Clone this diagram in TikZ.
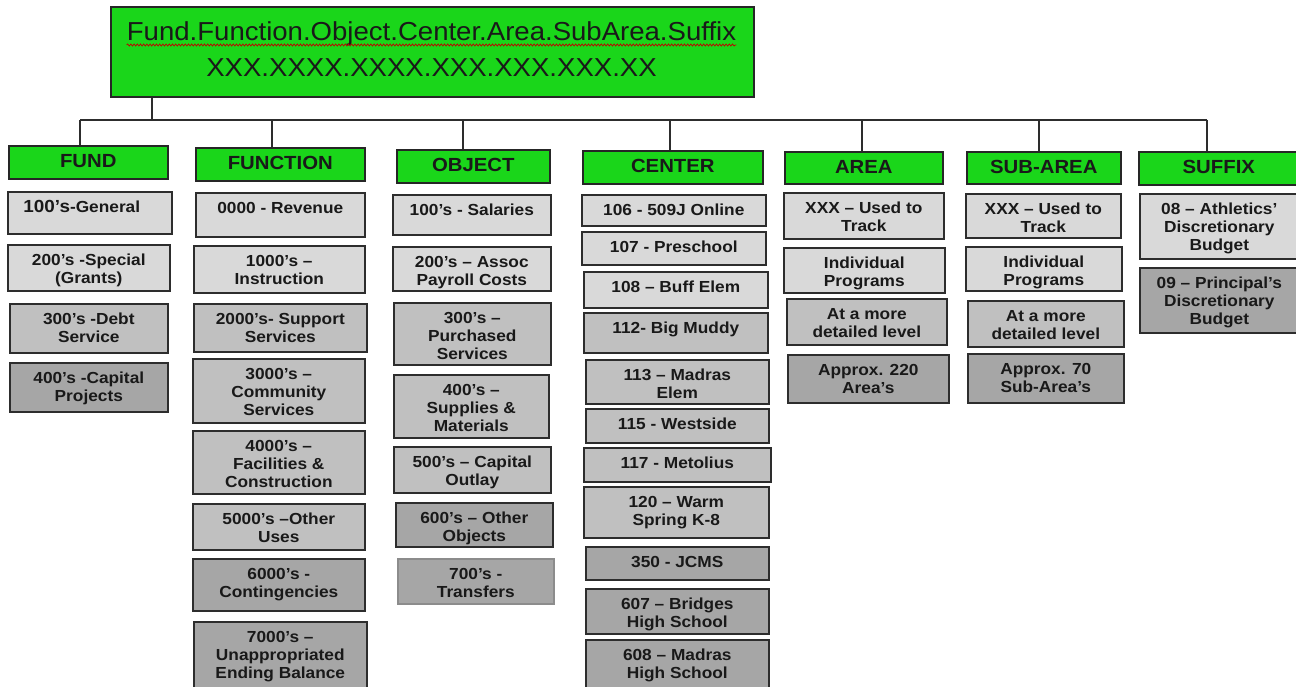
\documentclass[tikz,border=0pt]{standalone}
\usepackage{fontspec}
\setmainfont{Liberation Sans}
\newfontfamily\boxfont[FakeStretch=1.08]{Liberation Sans}
\newfontfamily\hdrfont[FakeStretch=1.07]{Liberation Sans}
\newfontfamily\topfont[FakeStretch=1.06]{Liberation Sans}
\usetikzlibrary{decorations.pathmorphing}
\definecolor{hgreen}{RGB}{26,214,26}
\definecolor{lgray}{RGB}{217,217,217}
\definecolor{mgray}{RGB}{192,192,192}
\definecolor{dgray}{RGB}{166,166,166}
\definecolor{edge}{RGB}{45,45,45}
\tikzset{
  lt/.style={fill=lgray},
  md/.style={fill=mgray},
  dk/.style={fill=dgray},
  dkpale/.style={fill=dgray, draw=black!45},
  cellbox/.style={draw=edge, line width=1.6pt, inner sep=0pt},
  celltext/.style={anchor=north, inner sep=0pt, align=center, text=black!90,
    font={\boxfont\bfseries\fontsize{16}{18}\selectfont}},
  hdrbox/.style={draw=black!85, fill=hgreen, line width=1.6pt, inner sep=0pt,
    font={\hdrfont\bfseries\fontsize{19}{21}\selectfont}, text=black!90},
  topbox/.style={draw=black!85, fill=hgreen, line width=2pt, inner sep=0pt},
  toptext/.style={inner sep=0pt, font={\topfont\fontsize{26}{29}\selectfont}, text=black!90},
  conn/.style={draw=edge, line width=1.6pt},
  squiggle/.style={draw=red!75!black, line width=0.7pt, decorate,
    decoration={snake, amplitude=1pt, segment length=3.2pt}}
}
\newcommand\cell[7]{%
  \pgfmathsetmacro\cellw{#4-#2}%
  \pgfmathsetmacro\cellh{#5-#3}%
  \node[cellbox, #6, minimum width=\cellw pt, minimum height=\cellh pt, anchor=north west] (#1) at (#2,#3) {};
  \node[celltext] (#1-t) at ([yshift=-8.5pt]#1.north) {\rule{0pt}{12.5pt}#7};
}
\newcommand\hdr[6]{%
  \pgfmathsetmacro\cellw{#4-#2}%
  \pgfmathsetmacro\cellh{#5-#3}%
  \node[hdrbox, minimum width=\cellw pt, minimum height=\cellh pt, anchor=north west] (#1) at (#2,#3) {\rule[-2pt]{0pt}{15pt}#6};
}
\begin{document}
\begin{tikzpicture}[x=1pt,y=-1pt]
\useasboundingbox (0,0) rectangle (1296,687);
\fill[white] (0,0) rectangle (1296,687);
\clip (0,0) rectangle (1296,687);

% top box
\node[topbox, minimum width=643pt, minimum height=90pt, anchor=north west] (top) at (110,6) {};
\node[toptext, anchor=base] (t1) at (431.5,41) {Fund.Function.Object.Center.Area.SubArea.Suffix};
\node[toptext, anchor=base] (t2) at (431.5,77) {XXX.XXXX.XXXX.XXX.XXX.XXX.XX};
\draw[squiggle] ([yshift=-4pt]t1.base west) -- ([yshift=-4pt]t1.base east);

% headers
\hdr{hfund}{8}{145}{167}{178}{FUND}
\hdr{hfunc}{195}{147}{364}{180}{FUNCTION}
\hdr{hobj}{396}{149}{549}{182}{OBJECT}
\hdr{hcen}{582}{150}{762}{183}{CENTER}
\hdr{harea}{784}{151}{942}{183}{AREA}
\hdr{hsub}{966}{151}{1120}{183}{SUB-AREA}
\hdr{hsuf}{1138}{151}{1298}{184}{SUFFIX}

% connectors
\coordinate (j0) at (152,120);
\coordinate (d1) at (80,120);
\coordinate (d2) at (272,120);
\coordinate (d3) at (463,120);
\coordinate (d4) at (670,120);
\coordinate (d5) at (862,120);
\coordinate (d6) at (1039,120);
\coordinate (d7) at (1207,120);
\draw[conn] (j0 |- top.south) -- (j0);
\draw[conn] (d1) -- (d7);
\draw[conn] (d1) -- (d1 |- hfund.north);
\draw[conn] (d2) -- (d2 |- hfunc.north);
\draw[conn] (d3) -- (d3 |- hobj.north);
\draw[conn] (d4) -- (d4 |- hcen.north);
\draw[conn] (d5) -- (d5 |- harea.north);
\draw[conn] (d6) -- (d6 |- hsub.north);
\draw[conn] (d7) -- (d7 |- hsuf.north);

% FUND
\node[cellbox, lt, minimum width=164pt, minimum height=42pt, anchor=north west] (f1) at (7,191) {};
\node[celltext] (f1-t) at ([xshift=-8pt,yshift=-8.5pt]f1.north) {\rule{0pt}{12.5pt}{\fontsize{17.5}{18}\selectfont 100’s}-General};
\cell{f2}{7}{244}{169}{290}{lt}{200’s -Special\\(Grants)}
\cell{f3}{9}{303}{167}{352}{md}{300’s -Debt\\Service}
\cell{f4}{9}{362}{167}{411}{dk}{400’s -Capital\\Projects}

% FUNCTION
\cell{u1}{195}{192}{364}{236}{lt}{0000 - Revenue}
\cell{u2}{193}{245}{364}{292}{lt}{1000’s –\\Instruction}
\cell{u3}{193}{303}{366}{351}{md}{2000’s- Support\\Services}
\cell{u4}{192}{358}{364}{422}{md}{3000’s –\\Community\\Services}
\cell{u5}{192}{430}{364}{493}{md}{4000’s –\\Facilities \&\\Construction}
\cell{u6}{192}{503}{364}{549}{md}{5000’s –Other\\Uses}
\cell{u7}{192}{558}{364}{610}{dk}{6000’s -\\Contingencies}
\cell{u8}{193}{621}{366}{687}{dk}{7000’s –\\Unappropriated\\Ending Balance}

% OBJECT
\cell{o1}{392}{194}{550}{234}{lt}{100’s - Salaries}
\cell{o2}{392}{246}{550}{290}{lt}{200’s – Assoc\\Payroll Costs}
\cell{o3}{393}{302}{550}{364}{md}{300’s –\\Purchased\\Services}
\cell{o4}{393}{374}{548}{437}{md}{400’s –\\Supplies \&\\Materials}
\cell{o5}{393}{446}{550}{492}{md}{500’s – Capital\\Outlay}
\cell{o6}{395}{502}{552}{546}{dk}{600’s – Other\\Objects}
\cell{o7}{397}{558}{553}{603}{dkpale}{700’s -\\Transfers}

% CENTER
\cell{c1}{581}{194}{765}{225}{lt}{106 - 509J Online}
\cell{c2}{581}{231}{765}{264}{lt}{107 - Preschool}
\cell{c3}{583}{271}{767}{307}{lt}{108 – Buff Elem}
\cell{c4}{583}{312}{767}{352}{md}{112- Big Muddy}
\cell{c5}{585}{359}{768}{403}{md}{113 – Madras\\Elem}
\cell{c6}{585}{408}{768}{442}{md}{115 - Westside}
\cell{c7}{583}{447}{770}{481}{md}{117 - Metolius}
\cell{c8}{583}{486}{768}{537}{md}{120 – Warm\\Spring K-8}
\cell{c9}{585}{546}{768}{579}{dk}{350 - JCMS}
\cell{c10}{585}{588}{768}{633}{dk}{607 – Bridges\\High School}
\cell{c11}{585}{639}{768}{687}{dk}{608 – Madras\\High School}

% AREA
\cell{a1}{783}{192}{943}{238}{lt}{XXX – Used to\\Track}
\cell{a2}{783}{247}{944}{292}{lt}{Individual\\Programs}
\cell{a3}{786}{298}{946}{344}{md}{At a more\\detailed level}
\cell{a4}{787}{354}{948}{402}{dk}{Approx. 220\\Area’s}

% SUB-AREA
\cell{s1}{965}{193}{1120}{237}{lt}{XXX – Used to\\Track}
\cell{s2}{965}{246}{1121}{290}{lt}{Individual\\Programs}
\cell{s3}{967}{300}{1123}{346}{md}{At a more\\detailed level}
\cell{s4}{967}{353}{1123}{402}{dk}{Approx. 70\\Sub-Area’s}

% SUFFIX
\cell{x1}{1139}{193}{1298}{258}{lt}{08 – Athletics’\\Discretionary\\Budget}
\cell{x2}{1139}{267}{1298}{332}{dk}{09 – Principal’s\\Discretionary\\Budget}
\end{tikzpicture}
\end{document}
